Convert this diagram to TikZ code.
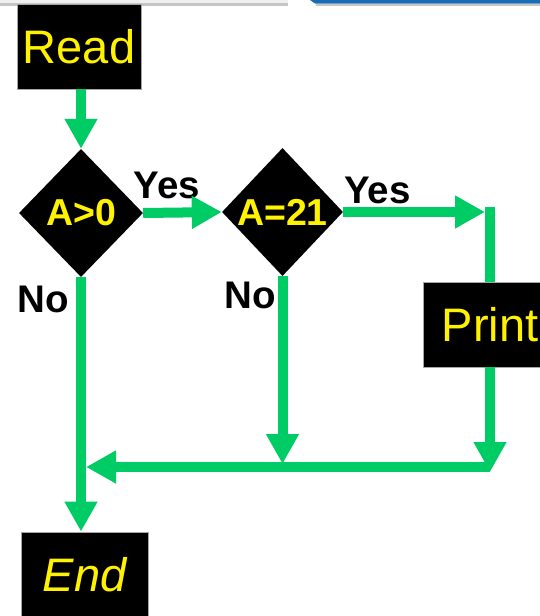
\documentclass[tikz,border=0pt]{standalone}
\usepackage{fontspec}
\setmainfont{Liberation Sans}
\usetikzlibrary{arrows.meta,shapes.geometric,calc}
\definecolor{flowgreen}{RGB}{0,204,102}
\definecolor{barblue}{RGB}{28,108,180}
\begin{document}
\begin{tikzpicture}[x=1pt,y=-1pt,
  boxnode/.style={rectangle,fill=black,draw=gray!70,line width=0.8pt,inner sep=0pt,text=yellow,font=\fontsize{47}{50}\selectfont},
  decision/.style={diamond,fill=black,inner sep=0pt,text=yellow,font=\bfseries\fontsize{37.5}{40}\selectfont},
  flow/.style={draw=flowgreen,line width=10pt},
  flowarrow/.style={flow,-{Triangle[width=31pt,length=30pt]}},
  answer/.style={font=\bfseries\fontsize{38.5}{40}\selectfont,inner sep=0pt,anchor=base}]
\useasboundingbox (0,0) rectangle (540,616);
\clip (0,0) rectangle (540,616);
\fill[white] (0,0) rectangle (540,616);
% top strip
\fill[gray!12] (0,0) rectangle (288,3);
\fill[gray!45] (0,3) rectangle (288,5.5);
\fill[barblue] (310,0) -- (540,0) -- (540,3.5) -- (315,3.5) -- cycle;
\fill[gray!45] (316,3.5) rectangle (540,5.5);
% nodes
\node[boxnode,minimum width=124pt,minimum height=85pt] (read) at (79,46.5) {Read};
\node[decision,minimum width=124pt,minimum height=128pt] (d1) at (81,213) {A>0};
\node[decision,minimum width=121pt,minimum height=128pt] (d2) at (282.5,212) {A=21};
\node[boxnode,minimum width=134pt,minimum height=85pt] (print) at (490,324.5) {Print};
\node[boxnode,minimum width=127pt,minimum height=85pt,font=\itshape\fontsize{47}{50}\selectfont] (end) at (84.5,574.5) {End};
% labels
\node[answer] (yes1) at (167,198) {Yes};
\node[answer] (yes2) at (377.5,203) {Yes};
\node[answer] (no1) at (43,312) {No};
\node[answer] (no2) at (250.5,308) {No};
% connectors
\coordinate (hy) at (0,467);
\coordinate (c1) at (print.north |- d2.east);
\draw[flowarrow] (d1.north |- read.south) -- (d1.north);
\draw[flowarrow] (d1.east) -- (d2.west);
\draw[flowarrow] (d2.east) -- ($(c1)+(-5,0)$);
\draw[flow] ($(c1)+(0,-5)$) -- (print.north);
\draw[flowarrow] (d1.south) -- (d1.south |- end.north);
\draw[flowarrow] (d2.south) -- ($(d2.south |- hy)+(0,-3)$);
\draw[flowarrow] (print.south) -- ($(print.south |- hy)+(0,5)$);
\draw[flowarrow] (print.south |- hy) -- ($(d1.south |- hy)+(5,0)$);
\end{tikzpicture}
\end{document}
